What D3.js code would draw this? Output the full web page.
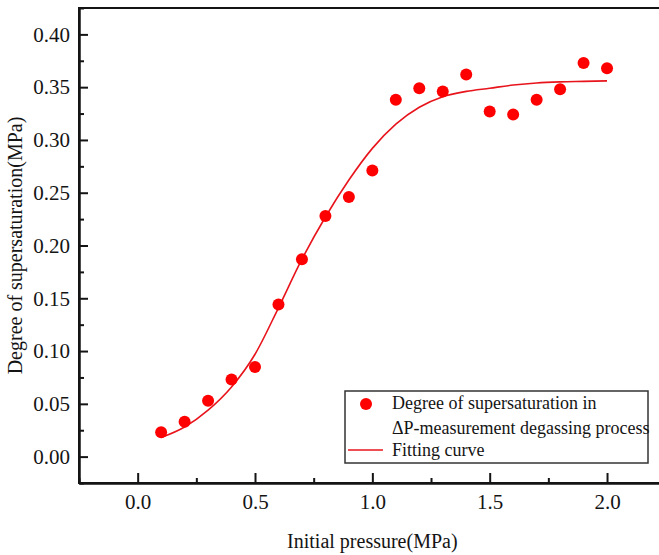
<!DOCTYPE html>
<html>
<head>
<meta charset="utf-8">
<script src="https://cdn.jsdelivr.net/npm/d3@7"></script>
<style>
  html, body { margin: 0; padding: 0; background: #fff; }
  svg { display: block; font-family: "Liberation Serif", "Times New Roman", serif; }
</style>
</head>
<body>
<svg id="chart" width="659" height="555"></svg>
<script>
// Measured supersaturation at each initial pressure (MPa)
const pressure = [0.1, 0.2, 0.3, 0.4, 0.5, 0.6, 0.7, 0.8, 0.9, 1.0,
                  1.1, 1.2, 1.3, 1.4, 1.5, 1.6, 1.7, 1.8, 1.9, 2.0];
const supersaturation = [0.023, 0.033, 0.053, 0.073, 0.085, 0.144, 0.187, 0.228, 0.246, 0.271,
                         0.338, 0.349, 0.346, 0.362, 0.327, 0.324, 0.338, 0.348, 0.373, 0.368];

// Sampled fitting curve (sigmoidal fit)
const fitX = [0.1, 0.2, 0.3, 0.4, 0.5, 0.6, 0.7, 0.8, 0.9, 1.0,
              1.1, 1.2, 1.3, 1.4, 1.5, 1.6, 1.7, 1.8, 1.9, 2.0];
const fitY = [0.018, 0.028, 0.044, 0.066, 0.097, 0.141, 0.187, 0.227, 0.262, 0.292,
              0.315, 0.331, 0.341, 0.346, 0.349, 0.352, 0.354, 0.355, 0.3555, 0.356];

const xMajor = [0.0, 0.5, 1.0, 1.5, 2.0];
const xMinor = [-0.25, 0.25, 0.75, 1.25, 1.75, 2.25];
const yMajor = [0.00, 0.05, 0.10, 0.15, 0.20, 0.25, 0.30, 0.35, 0.40];
const yMinor = [-0.025, 0.025, 0.075, 0.125, 0.175, 0.225, 0.275, 0.325, 0.375, 0.425];

const legendLabels = ["Degree of supersaturation in", "\u0394P-measurement degassing process", "Fitting curve"];
const xTitle = "Initial pressure(MPa)";
const yTitle = "Degree of supersaturation(MPa)";

const svg = d3.select("#chart");
const plotL = 79, plotR = 665.7, plotT = 8, plotB = 483;

const x = d3.scaleLinear().domain([-0.25, 2.25]).range([plotL, plotR]);
const y = d3.scaleLinear().domain([-0.025, 0.425]).range([plotB, plotT]);

const red = "#ff0000";
const ink = "#141414";

// Plot frame
svg.append("rect")
  .attr("x", plotL).attr("y", plotT)
  .attr("width", plotR - plotL).attr("height", plotB - plotT)
  .attr("fill", "none").attr("stroke", ink).attr("stroke-width", 2);

// Axes with inward ticks
const fmtX = d3.format(".1f"), fmtY = d3.format(".2f");
const gx = svg.append("g").attr("transform", `translate(0,${plotB})`)
  .call(d3.axisBottom(x).tickValues(xMajor).tickFormat(fmtX).tickSize(-10).tickSizeOuter(0).tickPadding(11));
const gxm = svg.append("g").attr("transform", `translate(0,${plotB})`)
  .call(d3.axisBottom(x).tickValues(xMinor).tickFormat("").tickSize(-5).tickSizeOuter(0));
const gy = svg.append("g").attr("transform", `translate(${plotL},0)`)
  .call(d3.axisLeft(y).tickValues(yMajor).tickFormat(fmtY).tickSize(-9).tickSizeOuter(0).tickPadding(9));
const gym = svg.append("g").attr("transform", `translate(${plotL},0)`)
  .call(d3.axisLeft(y).tickValues(yMinor).tickFormat("").tickSize(-5).tickSizeOuter(0));

[gx, gxm, gy, gym].forEach(g => {
  g.select(".domain").attr("stroke", ink).attr("stroke-width", 2);
  g.selectAll(".tick line").attr("stroke", ink).attr("stroke-width", 2);
  g.selectAll(".tick text").attr("fill", ink).style("font-size", "21px")
    .style("font-family", "'Liberation Serif', 'Times New Roman', serif");
});

// Axis titles
svg.append("text")
  .attr("x", x(1.0)).attr("y", 548)
  .attr("text-anchor", "middle").attr("fill", ink)
  .style("font-size", "20px").text(xTitle);
svg.append("text")
  .attr("transform", `translate(22,${(plotT + plotB) / 2}) rotate(-90)`)
  .attr("text-anchor", "middle").attr("fill", ink)
  .style("font-size", "20px").text(yTitle);

// Fitting curve
const line = d3.line().x((d, i) => x(fitX[i])).y(d => y(d)).curve(d3.curveMonotoneX);
svg.append("path").datum(fitY)
  .attr("d", line).attr("fill", "none")
  .attr("stroke", "#e8141c").attr("stroke-width", 1.6);

// Measured points
svg.append("g").selectAll("circle").data(supersaturation).join("circle")
  .attr("cx", (d, i) => x(pressure[i])).attr("cy", d => y(d))
  .attr("r", 6).attr("fill", red);

// Legend
const lg = svg.append("g");
lg.append("rect").attr("x", 345).attr("y", 391).attr("width", 303).attr("height", 72)
  .attr("fill", "#fff").attr("stroke", "#333").attr("stroke-width", 1.5);
lg.append("circle").attr("cx", 366).attr("cy", 404).attr("r", 6).attr("fill", red);
lg.append("line").attr("x1", 348).attr("x2", 383).attr("y1", 450).attr("y2", 450)
  .attr("stroke", "#e8141c").attr("stroke-width", 1.6);
const lgBase = [409, 434, 456];
lg.selectAll("text.lbl").data(legendLabels).join("text")
  .attr("class", "lbl")
  .attr("x", 392).attr("y", (d, i) => lgBase[i])
  .attr("fill", ink).style("font-size", "18px").text(d => d);
</script>
</body>
</html>
